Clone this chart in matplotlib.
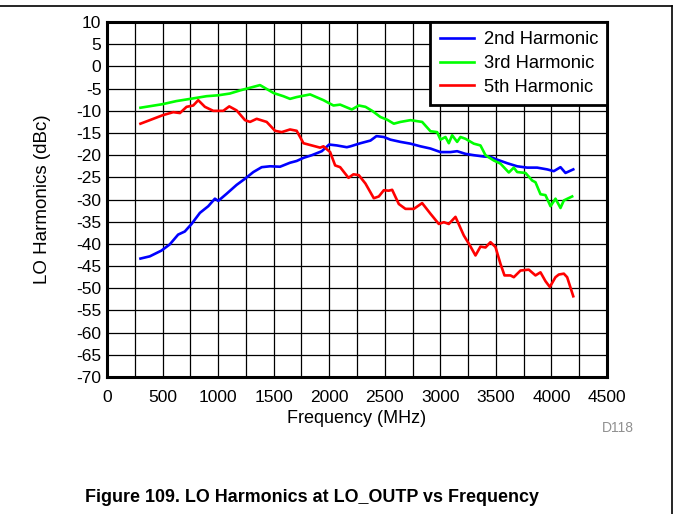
import numpy as np
import matplotlib
matplotlib.use('Agg')
import matplotlib.pyplot as plt
from matplotlib.ticker import MultipleLocator
from matplotlib.lines import Line2D

plt.rcParams['font.family'] = ['Liberation Sans', 'DejaVu Sans']
plt.rcParams['axes.unicode_minus'] = False

# 2nd harmonic (MHz, dBc)
f2 = [301, 385, 490, 565, 640, 700, 761, 836, 911, 971, 1001, 1076, 1166, 1242,
      1317, 1392, 1467, 1557, 1647, 1707, 1768, 1843, 1933, 1999, 2068, 2158,
      2191, 2281, 2371, 2425, 2491, 2551, 2641, 2731, 2821, 2911, 3001, 3091,
      3151, 3226, 3301, 3391, 3451, 3511, 3601, 3691, 3781, 3871, 3961, 4021,
      4081, 4126, 4196]
h2 = [-43.3, -42.8, -41.5, -40.1, -37.9, -37.2, -35.5, -33.0, -31.5, -29.8, -30.3,
      -28.7, -26.7, -25.3, -23.8, -22.7, -22.5, -22.6, -21.7, -21.3, -20.6, -20.0,
      -19.1, -17.6, -17.8, -18.2, -18.0, -17.3, -16.7, -15.7, -15.9, -16.5, -17.0,
      -17.4, -18.0, -18.5, -19.3, -19.3, -19.1, -19.7, -20.0, -20.3, -20.4, -21.0,
      -21.8, -22.5, -22.8, -22.8, -23.2, -23.6, -22.7, -24.0, -23.2]

# 3rd harmonic
f3 = [301, 500, 625, 750, 896, 1000, 1106, 1197, 1287, 1377, 1500, 1587, 1647,
      1707, 1828, 1948, 2038, 2098, 2203, 2266, 2326, 2386, 2461, 2521, 2581,
      2641, 2731, 2836, 2911, 2971, 3001, 3046, 3076, 3106, 3151, 3181, 3226,
      3301, 3361, 3406, 3481, 3541, 3571, 3616, 3661, 3691, 3766, 3826, 3856,
      3901, 3946, 3991, 4036, 4081, 4111, 4186]
h3 = [-9.3, -8.5, -7.8, -7.3, -6.7, -6.5, -6.1, -5.4, -4.8, -4.2, -6.0, -6.7, -7.3,
      -6.9, -6.3, -7.6, -8.8, -8.6, -9.7, -8.8, -9.1, -10.0, -11.4, -12.0, -12.9,
      -12.5, -12.1, -12.5, -14.6, -14.8, -16.5, -15.9, -17.3, -15.5, -17.0, -15.9,
      -16.3, -17.4, -17.8, -20.0, -21.2, -21.9, -22.7, -23.9, -22.8, -23.8, -24.0,
      -25.7, -26.1, -28.8, -29.0, -31.5, -29.8, -31.9, -30.2, -29.3]

# 5th harmonic
f5 = [301, 385, 500, 596, 656, 716, 776, 821, 881, 956, 1046, 1100, 1166, 1242,
      1287, 1347, 1437, 1512, 1572, 1647, 1707, 1768, 1843, 1918, 1948, 2008,
      2053, 2098, 2173, 2218, 2266, 2326, 2401, 2446, 2491, 2536, 2566, 2626,
      2686, 2761, 2836, 2911, 2986, 3031, 3076, 3136, 3211, 3265, 3316, 3361,
      3406, 3451, 3496, 3541, 3577, 3631, 3661, 3721, 3796, 3856, 3901, 3946,
      3985, 4036, 4066, 4111, 4141, 4196]
h5 = [-12.9, -12.1, -11.0, -10.3, -10.5, -9.1, -8.8, -7.6, -9.1, -10.0, -10.0, -9.0,
      -9.9, -12.1, -12.5, -11.8, -12.5, -14.5, -14.8, -14.2, -14.5, -17.3, -17.8,
      -18.3, -18.0, -19.3, -22.3, -22.7, -25.1, -24.3, -24.5, -26.4, -29.7, -29.3,
      -27.9, -28.0, -27.8, -31.0, -32.1, -32.1, -30.8, -33.2, -35.5, -35.1, -35.5,
      -33.9, -38.1, -40.3, -42.6, -40.6, -40.8, -39.6, -40.7, -44.5, -47.1, -47.1,
      -47.5, -46.0, -45.8, -47.1, -46.4, -48.4, -49.7, -47.5, -46.9, -46.7, -47.5,
      -51.8]

fig = plt.figure(figsize=(6.73, 5.14), dpi=100)
ax = fig.add_axes([0.159, 0.2665, 0.743, 0.6905])

ax.plot(f2, h2, color='#0000ff', lw=1.9, label='2nd Harmonic')
ax.plot(f3, h3, color='#00ff00', lw=1.9, label='3rd Harmonic')
ax.plot(f5, h5, color='#ff0000', lw=1.9, label='5th Harmonic')

ax.set_xlim(0, 4500)
ax.set_ylim(-70, 10)
ax.xaxis.set_major_locator(MultipleLocator(500))
ax.xaxis.set_minor_locator(MultipleLocator(250))
ax.yaxis.set_major_locator(MultipleLocator(5))
ax.grid(True, which='both', color='black', lw=0.9)
ax.set_axisbelow(True)
ax.tick_params(which='both', length=0)
ax.tick_params(axis='y', pad=4, labelsize=12.5)
ax.tick_params(axis='x', pad=9, labelsize=12.5)
for s in ax.spines.values():
    s.set_linewidth(2.2)

ax.set_xlabel('Frequency (MHz)', fontsize=13, labelpad=4)
ax.set_ylabel('LO Harmonics (dBc)', fontsize=13.5, labelpad=18)

leg = ax.legend(loc='upper right', fontsize=13.2, borderaxespad=0, fancybox=False,
                framealpha=1, edgecolor='black', handlelength=1.9, labelspacing=0.37,
                borderpad=0.5, handletextpad=0.5)
leg.get_frame().set_linewidth(2)

fig.text(0.918, 0.167, 'D118', fontsize=10, color='#909090', ha='center', va='center')
fig.text(0.464, 0.033, 'Figure 109. LO Harmonics at LO_OUTP vs Frequency',
         fontsize=12.9, fontweight='bold', ha='center', va='center')

fig.add_artist(Line2D([0, 0.9985], [0.988, 0.988], color='black', lw=1.2,
                      transform=fig.transFigure))
fig.add_artist(Line2D([0.9985, 0.9985], [0.0, 0.988], color='black', lw=1.2,
                      transform=fig.transFigure))

fig.savefig('out.png', dpi=100)
